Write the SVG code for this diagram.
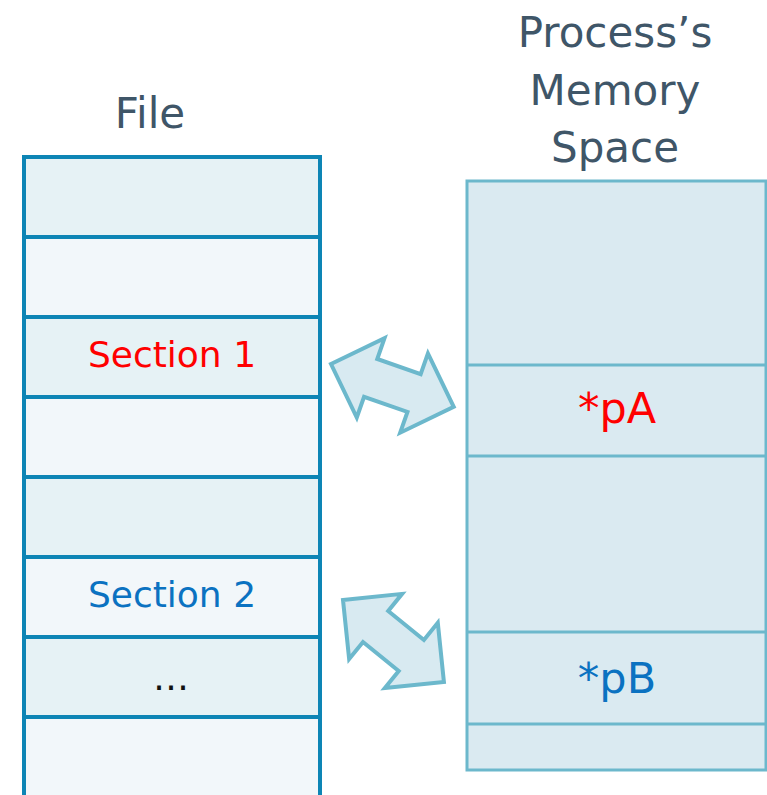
<svg xmlns="http://www.w3.org/2000/svg" width="767" height="795" viewBox="0 0 767 795">
  <style>
    .title { font-family: "DejaVu Sans", "Noto Sans", sans-serif; font-size: 42px; fill: #3f5668; text-anchor: middle; }
    .sec { font-family: "DejaVu Sans", "Noto Sans", sans-serif; font-size: 36px; text-anchor: middle; }
    .ptr { font-family: "DejaVu Sans", "Noto Sans", sans-serif; font-size: 43px; text-anchor: middle; }
    .red { fill: #ff0000; }
    .blue { fill: #0b72c1; }
    .rowA { fill: #e6f2f5; }
    .rowB { fill: #f2f7fa; }
    .fileLine { stroke: #0d85b5; stroke-width: 4; fill: none; }
    .memBox { fill: #daeaf1; stroke: #6cb8cc; stroke-width: 3; }
    .memLine { stroke: #6cb8cc; stroke-width: 3; fill: none; }
    .dbl { fill: #d8eaf1; stroke: #6cb8cc; stroke-width: 4; stroke-linejoin: miter; }
  </style>
  <defs>
    <!-- double-headed block arrow, 130 long, drawn along +x from the origin -->
    <polygon id="dblArrow" class="dbl" points="0,0 42,-42 42,-20 88,-20 88,-42 130,0 88,42 88,20 42,20 42,42"/>
  </defs>

  <rect width="767" height="795" fill="#ffffff"/>

  <!-- File column -->
  <g id="file">
    <text class="title" x="150" y="128">File</text>
    <rect class="rowA" x="24" y="157" width="296" height="80"/>
    <rect class="rowB" x="24" y="237" width="296" height="80"/>
    <rect class="rowA" x="24" y="317" width="296" height="80"/>
    <rect class="rowB" x="24" y="397" width="296" height="80"/>
    <rect class="rowA" x="24" y="477" width="296" height="80"/>
    <rect class="rowB" x="24" y="557" width="296" height="80"/>
    <rect class="rowA" x="24" y="637" width="296" height="80"/>
    <rect class="rowB" x="24" y="717" width="296" height="80"/>
    <path class="fileLine" d="M24,797 V157 H320 V797 M24,237 H320 M24,317 H320 M24,397 H320 M24,477 H320 M24,557 H320 M24,637 H320 M24,717 H320"/>
    <text class="sec red" x="172" y="367">Section 1</text>
    <text class="sec blue" x="172" y="607">Section 2</text>
    <text class="sec" x="171" y="690" fill="#111111" font-size="30">…</text>
  </g>

  <!-- Process memory column -->
  <g id="memory">
    <text class="title" x="615" y="47">Process’s</text>
    <text class="title" x="615" y="105">Memory</text>
    <text class="title" x="615" y="162">Space</text>
    <rect class="memBox" x="467" y="181" width="299" height="589"/>
    <path class="memLine" d="M467,365 H766 M467,456 H766 M467,632 H766 M467,724 H766"/>
    <text class="ptr red" x="617" y="423">*pA</text>
    <text class="ptr blue" x="617" y="693">*pB</text>
  </g>

  <!-- mapping arrows -->
  <g id="connectors">
    <use href="#dblArrow" transform="translate(331,364) rotate(19.27)"/>
    <use href="#dblArrow" transform="translate(343,600) rotate(39.07)"/>
  </g>
</svg>
